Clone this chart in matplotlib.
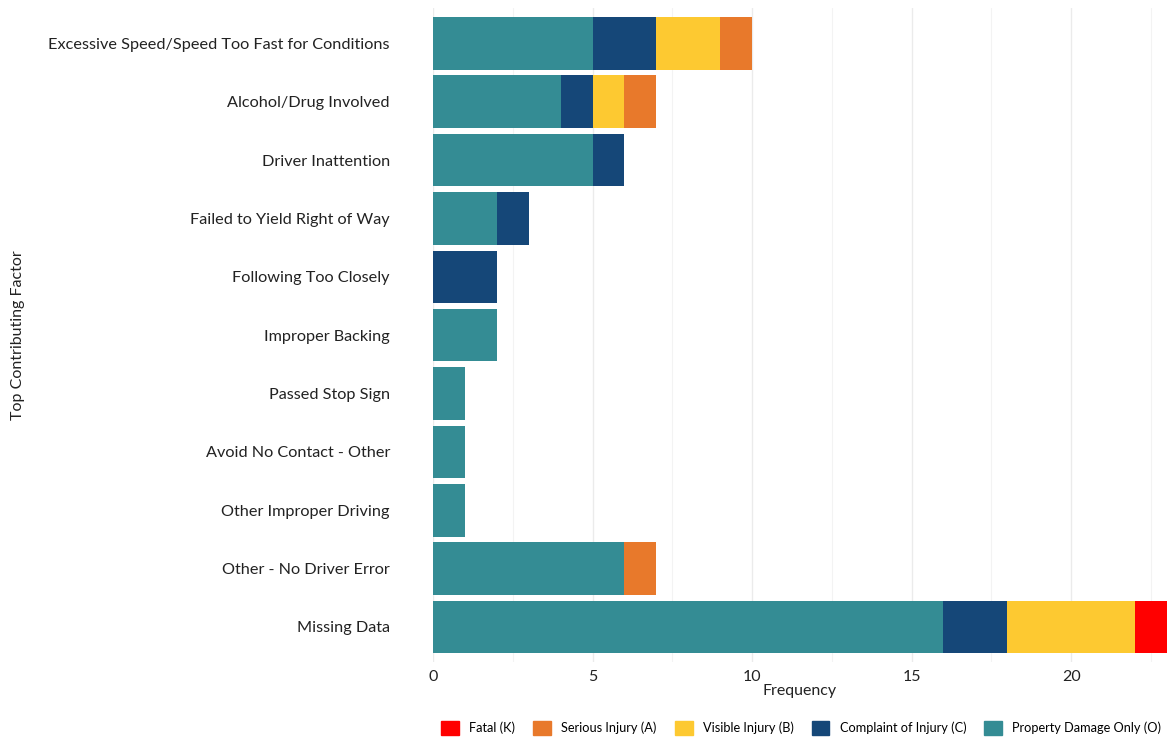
import matplotlib.pyplot as plt
import numpy as np
from matplotlib.patches import Patch

plt.rcParams["font.family"] = ["Lato", "DejaVu Sans"]

factors = ["Excessive Speed/Speed Too Fast for Conditions", "Alcohol/Drug Involved",
           "Driver Inattention", "Failed to Yield Right of Way", "Following Too Closely",
           "Improper Backing", "Passed Stop Sign", "Avoid No Contact - Other",
           "Other Improper Driving", "Other - No Driver Error", "Missing Data"]

# counts per severity, in stacking order from the left
property_only = [5, 4, 5, 2, 0, 2, 1, 1, 1, 6, 16]
complaint = [2, 1, 1, 1, 2, 0, 0, 0, 0, 0, 2]
visible = [2, 1, 0, 0, 0, 0, 0, 0, 0, 0, 4]
serious = [1, 1, 0, 0, 0, 0, 0, 0, 0, 1, 0]
fatal = [0, 0, 0, 0, 0, 0, 0, 0, 0, 0, 1]

series = [
    ("Property Damage Only (O)", property_only, "#348C94"),
    ("Complaint of Injury (C)", complaint, "#154778"),
    ("Visible Injury (B)", visible, "#FDC931"),
    ("Serious Injury (A)", serious, "#E8792B"),
    ("Fatal (K)", fatal, "#FF0000"),
]

fig = plt.figure(figsize=(11.68, 7.42), dpi=100)
ax = fig.add_axes([0.3707, 0.1078, 0.6283, 0.881])

y = np.arange(len(factors))
left = np.zeros(len(factors))
for name, vals, col in series:
    vals = np.array(vals, dtype=float)
    ax.barh(y, vals, left=left, height=0.9, color=col, linewidth=0, zorder=3)
    left += vals

ax.set_xlim(0, 23)
ax.set_ylim(len(factors) - 0.4, -0.6)
ax.set_yticks(y)
ax.set_yticklabels(factors, fontsize=11.7, color="#222222")
ax.set_xticks([0, 5, 10, 15, 20])
ax.set_xticks([2.5, 7.5, 12.5, 17.5, 22.5], minor=True)
ax.tick_params(axis="both", length=0, which="both")
ax.tick_params(axis="x", labelsize=11.5, colors="#222222", pad=6)
ax.tick_params(axis="y", pad=31)
ax.grid(axis="x", which="major", color="#EBEBEB", linewidth=1.0, zorder=0)
ax.grid(axis="x", which="minor", color="#F3F3F3", linewidth=0.8, zorder=0)
for s in ax.spines.values():
    s.set_visible(False)

ax.set_xlabel("Frequency", fontsize=11.5, labelpad=0, color="#222222")
fig.text(18 / 1168, 0.5483, "Top Contributing Factor", rotation=90, fontsize=11.5,
         color="#222222", ha="center", va="center")

handles = [Patch(color=col, label=name) for name, vals, col in reversed(series)]
fig.legend(handles=handles, loc="center", bbox_to_anchor=(0.686, 0.019), ncol=5,
           frameon=False, fontsize=9.2, handlelength=1.4, handleheight=1.4,
           handletextpad=0.8, columnspacing=1.4)

fig.savefig("out.png", dpi=100)
